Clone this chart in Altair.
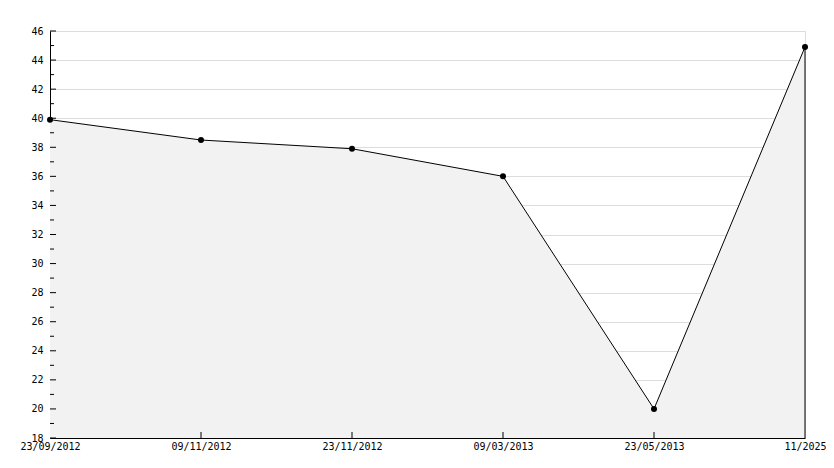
import altair as alt
import pandas as pd

dates = ["23/09/2012", "09/11/2012", "23/11/2012", "09/03/2013", "23/05/2013", "11/2025"]
values = [39.9, 38.5, 37.9, 36.0, 20.0, 44.9]
major_ticks = list(range(18, 47, 2))
minor_ticks = list(range(19, 46, 2))
y_min, y_max = 18, 46

df = pd.DataFrame({"date": dates, "value": values})
df_major = pd.DataFrame({"value": major_ticks})
df_minor = pd.DataFrame({"value": minor_ticks})

W, H = 755, 407
FONT = "DejaVu Sans Mono"

xscale = alt.Scale(type="point", domain=dates, padding=0)
yscale = alt.Scale(domain=[y_min, y_max], nice=False, zero=False)

x_axis = alt.Axis(title=None, labelAngle=0, ticks=False, labelPadding=3,
                  labelFont=FONT, labelFontSize=10, labelColor="black",
                  domainColor="black", domainWidth=1, labelBound=False,
                  labelAlign="center", grid=False, labelFlush=False,
                  labelOverlap=False)
y_axis = alt.Axis(title=None, values=major_ticks, ticks=False, labelPadding=7,
                  labelFont=FONT, labelFontSize=10, labelColor="black",
                  domainColor="black", domainWidth=1, grid=True,
                  gridColor="#dddddd", gridWidth=1, labelOverlap=False,
                  labelBound=False, labelFlush=False)

x_enc = alt.X("date:O", scale=xscale, sort=dates, axis=x_axis)
y_enc = alt.Y("value:Q", scale=yscale, axis=y_axis)

area = alt.Chart(df).mark_area(color="#f2f2f2", line=False).encode(
    x=x_enc, y=y_enc, y2=alt.datum(y_min))

line = alt.Chart(df).mark_line(color="black", strokeWidth=1).encode(x=x_enc, y=y_enc)

edge = alt.Chart(df.iloc[[-1]]).mark_rule(color="black", strokeWidth=1).encode(
    x=x_enc, y=y_enc, y2=alt.datum(y_min))

pts = alt.Chart(df).mark_point(shape="circle", filled=True, color="black", size=36, opacity=1).encode(
    x=x_enc, y=y_enc)

maj = alt.Chart(df_major).mark_rule(color="black", strokeWidth=1).encode(
    y=y_enc, x=alt.value(0), x2=alt.value(6))
mino = alt.Chart(df_minor).mark_rule(color="black", strokeWidth=1).encode(
    y=y_enc, x=alt.value(0), x2=alt.value(4))
xt = alt.Chart(df.iloc[1:-1]).mark_rule(color="black", strokeWidth=1).encode(
    x=x_enc, y=alt.value(H), y2=alt.value(H - 6))

chart = alt.layer(area, line, edge, pts, maj, mino, xt).properties(
    width=W, height=H,
    autosize=alt.AutoSizeParams(type="none"),
    padding={"left": 42, "top": 23, "right": 21, "bottom": 22},
).configure_view(stroke=None).configure(background="white")

chart.save("out.html", embed_options={"renderer": "svg", "actions": False})
